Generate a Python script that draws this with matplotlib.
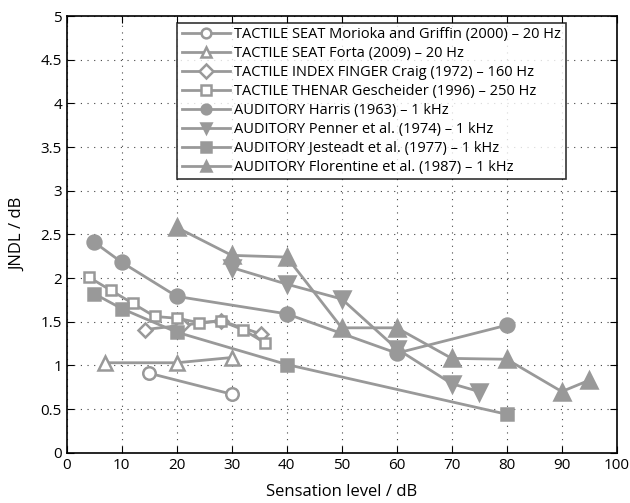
import matplotlib
matplotlib.use('Agg')
import matplotlib.pyplot as plt

plt.rcParams['font.family'] = ['Open Sans', 'DejaVu Sans']

GREY = '#999999'

# data
morioka_x = [15, 30]
morioka_y = [0.91, 0.67]
forta_x = [7, 20, 30]
forta_y = [1.03, 1.03, 1.09]
craig_x = [14.2, 21, 28.1, 35.3]
craig_y = [1.41, 1.46, 1.51, 1.36]
gesch_x = [4, 8, 12, 16, 20, 24, 28, 32, 36]
gesch_y = [2.01, 1.86, 1.71, 1.56, 1.54, 1.49, 1.51, 1.41, 1.26]
harris_x = [5, 10, 20, 40, 60, 80]
harris_y = [2.41, 2.18, 1.79, 1.59, 1.14, 1.46]
penner_x = [30, 40, 50, 60, 70, 75]
penner_y = [2.12, 1.93, 1.76, 1.19, 0.79, 0.70]
jest_x = [5, 10, 20, 40, 80]
jest_y = [1.82, 1.65, 1.38, 1.01, 0.44]
flor_x = [20, 30, 40, 50, 60, 70, 80, 90, 95]
flor_y = [2.58, 2.26, 2.24, 1.43, 1.43, 1.08, 1.07, 0.70, 0.83]

labels = [
    'TACTILE SEAT Morioka and Griffin (2000) \u2013 20 Hz',
    'TACTILE SEAT Forta (2009) \u2013 20 Hz',
    'TACTILE INDEX FINGER Craig (1972) \u2013 160 Hz',
    'TACTILE THENAR Gescheider (1996) \u2013 250 Hz',
    'AUDITORY Harris (1963) \u2013 1 kHz',
    'AUDITORY Penner et al. (1974) \u2013 1 kHz',
    'AUDITORY Jesteadt et al. (1977) \u2013 1 kHz',
    'AUDITORY Florentine et al. (1987) \u2013 1 kHz',
]

series = [
    (morioka_x, morioka_y, 'o', 'white', 9),
    (forta_x, forta_y, '^', 'white', 10),
    (craig_x, craig_y, 'D', 'white', 7),
    (gesch_x, gesch_y, 's', 'white', 7.5),
    (harris_x, harris_y, 'o', GREY, 10),
    (penner_x, penner_y, 'v', GREY, 11),
    (jest_x, jest_y, 's', GREY, 8),
    (flor_x, flor_y, '^', GREY, 11),
]

fig = plt.figure(figsize=(6.3, 5.03), dpi=100)
ax = fig.add_axes([0.106, 0.1, 0.873, 0.868])

for (x, y, m, fc, ms), lab in zip(series, labels):
    ax.plot(x, y, color=GREY, lw=2, marker=m, markersize=ms,
            markerfacecolor=fc, markeredgecolor=GREY, markeredgewidth=1.8,
            label=lab)

ax.set_xlim(0, 100)
ax.set_ylim(0, 5)
ax.set_xticks(range(0, 101, 10))
ax.set_yticks([0, 0.5, 1, 1.5, 2, 2.5, 3, 3.5, 4, 4.5, 5])
ax.set_yticklabels(['0', '0.5', '1', '1.5', '2', '2.5', '3', '3.5', '4', '4.5', '5'])
ax.grid(True, color='#444444', linestyle=(0, (1, 5)), linewidth=0.8)
ax.tick_params(direction='in', top=True, right=True, labelsize=11, length=5)
for s in ax.spines.values():
    s.set_linewidth(1.2)

ax.set_xlabel('Sensation level / dB', fontsize=12, labelpad=8)
ax.set_ylabel('JNDL / dB', fontsize=12, labelpad=10)

leg = ax.legend(loc='upper right', bbox_to_anchor=(0.907, 0.984),
                borderaxespad=0, fontsize=10.5, frameon=True, fancybox=False,
                edgecolor='black', handlelength=3.3, handletextpad=0.3,
                labelspacing=0.27, borderpad=0.3)
leg.get_frame().set_linewidth(1.2)
for h in leg.legend_handles:
    h.set_markersize(7)

fig.savefig('out.png', dpi=100)
